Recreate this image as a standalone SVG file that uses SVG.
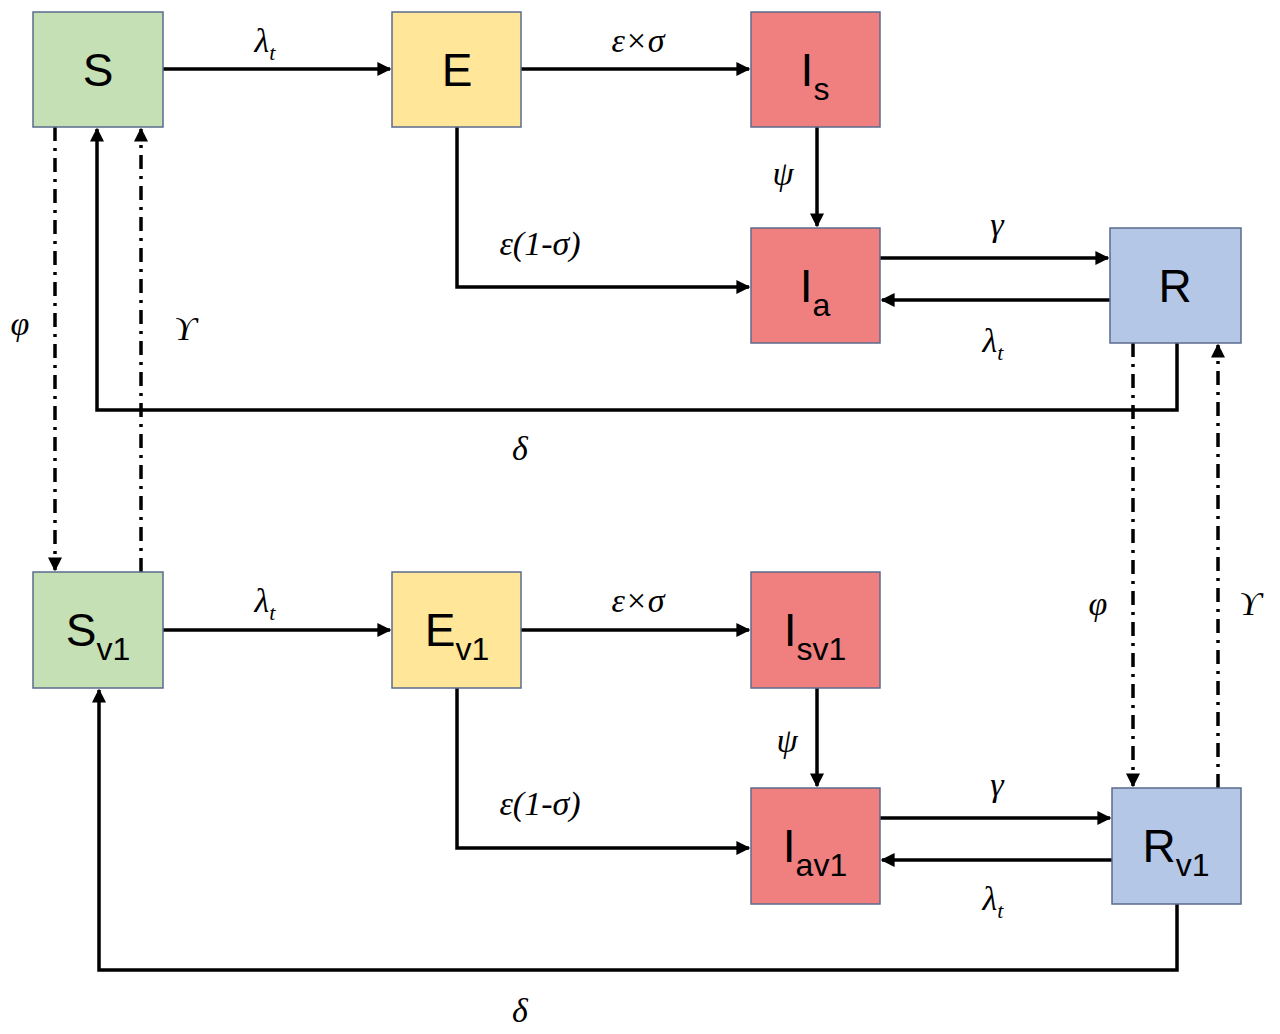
<svg xmlns="http://www.w3.org/2000/svg" width="1280" height="1034" viewBox="0 0 1280 1034">
<style>
.n{stroke:#5b6b8c;stroke-width:1.5}
.g{fill:#c5e0b4}.y{fill:#ffe699}.r{fill:#f08080}.b{fill:#b4c7e7}
.t{font-family:"Liberation Sans",Arial,sans-serif;font-size:46px;fill:#000;text-anchor:middle}
.s{font-size:32px}
.l{font-family:"Liberation Serif","Times New Roman",serif;font-style:italic;font-size:34px;text-anchor:middle}
.ls{font-size:22px}
.c{fill:none;stroke:#000;stroke-width:3.5;marker-end:url(#a)}
.d{stroke-dasharray:14 7 3 7}
</style>
<defs><marker id="a" viewBox="0 0 10 10" refX="9" refY="5" markerWidth="4" markerHeight="4" orient="auto"><path d="M0,0L10,5L0,10z"/></marker></defs>
<g id="connectors">
<path class="c" d="M163,69H390"/>
<path class="c" d="M521,69H749"/>
<path class="c" d="M817,127V226"/>
<path class="c" d="M457,127V287H749"/>
<path class="c" d="M880,258H1108"/>
<path class="c" d="M1110,300H882"/>
<path class="c" d="M1177,343V410H97V129"/>
<path class="c d" d="M55,127V570"/>
<path class="c d" d="M141,572V129"/>
<path class="c d" d="M1133,343V786"/>
<path class="c d" d="M1218,788V345"/>
<path class="c" d="M163,630H390"/>
<path class="c" d="M521,630H749"/>
<path class="c" d="M817,688V786"/>
<path class="c" d="M457,688V848H749"/>
<path class="c" d="M880,818H1110"/>
<path class="c" d="M1112,860H882"/>
<path class="c" d="M1177,904V970H99V690"/>
</g>
<g id="labels">
<text class="l" x="265" y="52">λ<tspan class="ls" dy="8">t</tspan></text>
<text class="l" x="638" y="52">ε×σ</text>
<text class="l" x="783" y="185">ψ</text>
<text class="l" x="540" y="255">ε(1-σ)</text>
<text class="l" x="997" y="236">γ</text>
<text class="l" x="993" y="352">λ<tspan class="ls" dy="8">t</tspan></text>
<text class="l" x="520" y="460">δ</text>
<text class="l" x="20" y="335">φ</text>
<text class="l" x="185" y="340">ϒ</text>
<text class="l" x="265" y="612">λ<tspan class="ls" dy="8">t</tspan></text>
<text class="l" x="638" y="612">ε×σ</text>
<text class="l" x="787" y="752">ψ</text>
<text class="l" x="540" y="815">ε(1-σ)</text>
<text class="l" x="997" y="796">γ</text>
<text class="l" x="993" y="910">λ<tspan class="ls" dy="8">t</tspan></text>
<text class="l" x="520" y="1022">δ</text>
<text class="l" x="1098" y="615">φ</text>
<text class="l" x="1250" y="615">ϒ</text>
</g>
<g id="S"><rect class="n g" x="33" y="12" width="130" height="115"/><text class="t" x="98" y="86">S</text></g>
<g id="E"><rect class="n y" x="392" y="12" width="129" height="115"/><text class="t" x="457" y="86">E</text></g>
<g id="Is"><rect class="n r" x="751" y="12" width="129" height="115"/><text class="t" x="815" y="86">I<tspan class="s" dy="14">s</tspan></text></g>
<g id="Ia"><rect class="n r" x="751" y="228" width="129" height="115"/><text class="t" x="815" y="302">I<tspan class="s" dy="14">a</tspan></text></g>
<g id="R"><rect class="n b" x="1110" y="228" width="131" height="115"/><text class="t" x="1175" y="302">R</text></g>
<g id="Sv1"><rect class="n g" x="33" y="572" width="130" height="116"/><text class="t" x="98" y="646">S<tspan class="s" dy="14">v1</tspan></text></g>
<g id="Ev1"><rect class="n y" x="392" y="572" width="129" height="116"/><text class="t" x="457" y="646">E<tspan class="s" dy="14">v1</tspan></text></g>
<g id="Isv1"><rect class="n r" x="751" y="572" width="129" height="116"/><text class="t" x="815" y="646">I<tspan class="s" dy="14">sv1</tspan></text></g>
<g id="Iav1"><rect class="n r" x="751" y="788" width="129" height="116"/><text class="t" x="815" y="862">I<tspan class="s" dy="14">av1</tspan></text></g>
<g id="Rv1"><rect class="n b" x="1112" y="788" width="129" height="116"/><text class="t" x="1176" y="862">R<tspan class="s" dy="14">v1</tspan></text></g>
</svg>
